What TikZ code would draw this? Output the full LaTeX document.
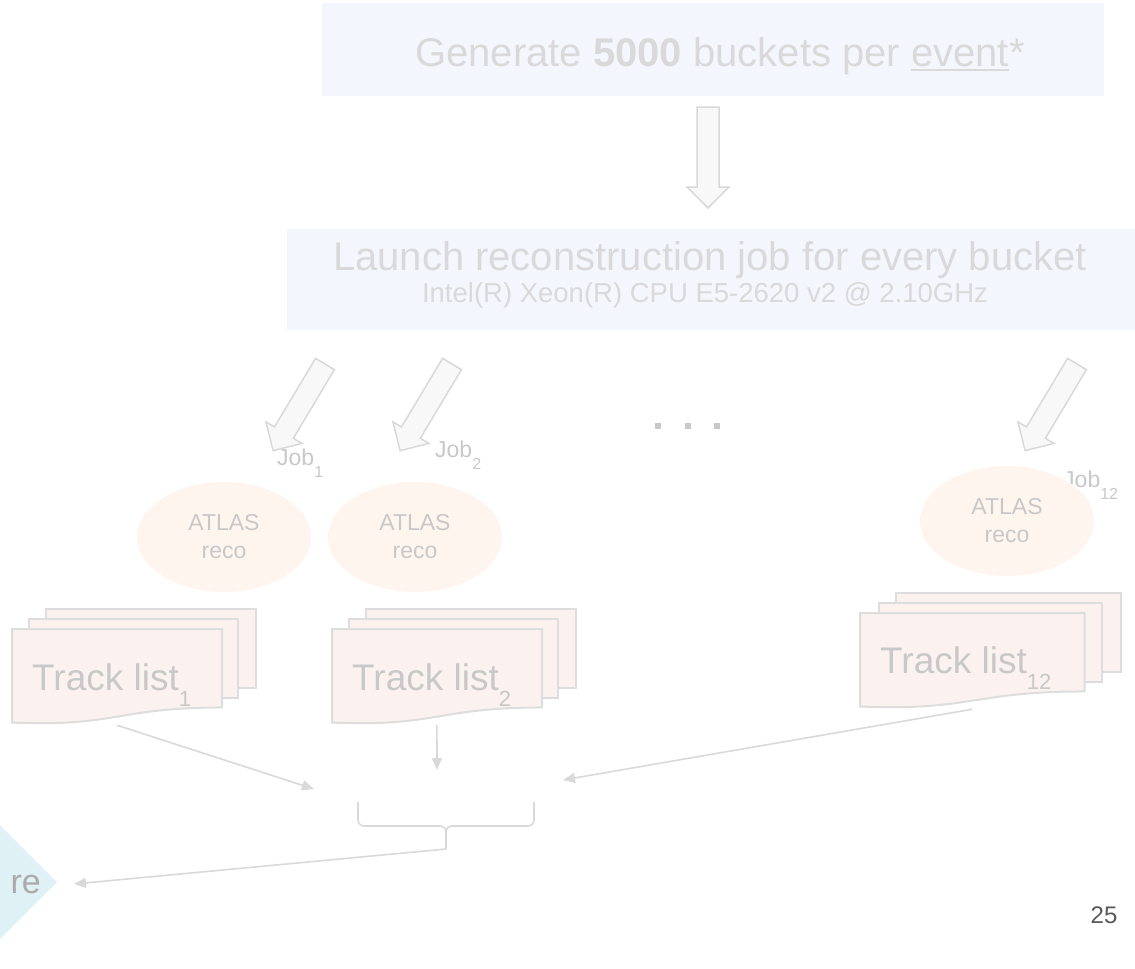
\documentclass[tikz,border=0pt]{standalone}
\usepackage{fontspec}
\setmainfont{Liberation Sans}
\usetikzlibrary{arrows.meta,shapes.geometric}

\definecolor{txtlight}{HTML}{D9D9D9}
\definecolor{txtmid}{HTML}{C8C8C8}
\definecolor{boxblue}{HTML}{F3F6FD}
\definecolor{recofill}{HTML}{FDF5EE}
\definecolor{docfill}{HTML}{FBF2F0}
\definecolor{docline}{HTML}{DDDDDD}
\definecolor{arrowline}{HTML}{D9D9D9}
\definecolor{arrowfill}{HTML}{F8F8F8}
\definecolor{tealfill}{HTML}{DFF1F4}
\definecolor{pagenum}{HTML}{595959}

\newlength\ulw
\newcommand\linedword[1]{\settowidth\ulw{#1}\rlap{\rule[-5pt]{\ulw}{2.5pt}}#1}
\newcommand\lowsub[3]{\raisebox{#2}{\fontsize{#1}{#1}\selectfont #3}}

% hollow block arrow: tail centre (x,y), direction angle
\newcommand\blockarrow[3]{%
  \begin{scope}[shift={(#1,#2)},rotate=#3]
    \filldraw[blockarrow] (0,-11) -- (80,-11) -- (80,-21) -- (101,0)
      -- (80,21) -- (80,11) -- (0,11) -- cycle;
  \end{scope}}

% stack of three pages: x0, y0, width, height, name of bottom point
\newcommand\multidoc[5]{%
  \begin{scope}[shift={(#1,#2)},xscale=#3,yscale=#4]
    \filldraw[docpage] (0.1376,0) rectangle (1,0.6663);
    \filldraw[docpage] (0.0709,0.0840) rectangle (0.9259,0.7524);
    \filldraw[docpage] (0,0.1701) -- (0.8609,0.1701) -- (0.8609,0.8344)
      .. controls (0.4305,0.8344) and (0.4305,1.0) .. (0,0.9621) -- cycle;
    \coordinate (#5) at (0.43,0.985);
  \end{scope}}

\tikzset{
  blockarrow/.style={fill=arrowfill, draw=arrowline, line width=1.5pt, line join=miter},
  docpage/.style={fill=docfill, draw=docline, line width=2pt},
  link/.style={draw=arrowline, line width=1.6pt, -{Triangle[length=12pt,width=10pt]}},
  bracestyle/.style={draw=arrowline, line width=1.6pt, rounded corners=6pt},
  reco/.style={ellipse, fill=recofill, minimum width=174pt, minimum height=110pt,
    inner sep=0pt, align=center, text=txtmid, font=\fontsize{23}{28}\selectfont},
  joblabel/.style={anchor=base west, inner sep=0pt, text=txtmid, font=\fontsize{23}{28}\selectfont},
  tracktext/.style={anchor=base west, inner sep=0pt, text=txtmid, font=\fontsize{37}{44}\selectfont},
}

\begin{document}
\begin{tikzpicture}[x=1pt,y=-1pt]
\useasboundingbox (0,0) rectangle (1135,969);

% top banner
\fill[boxblue] (322,3) rectangle (1104,96);
\node[anchor=base, inner sep=0pt, text=txtlight, font=\fontsize{40}{48}\selectfont]
  (gen) at (720,66) {Generate \textbf{5000} buckets per \linedword{event}*};

\blockarrow{708}{107}{270}

% launch banner
\fill[boxblue] (287,229) rectangle (1135,330);
\node[anchor=base, inner sep=0pt, text=txtlight, font=\fontsize{40}{48}\selectfont]
  (launch) at (710,270) {Launch reconstruction job for every bucket};
\node[anchor=base, inner sep=0pt, text=txtlight, font=\fontsize{27.5}{32}\selectfont]
  (cpu) at (705,302) {Intel(R) Xeon(R) CPU E5-2620 v2 @ 2.10GHz};

% job arrows
\blockarrow{325}{364}{239.1}
\blockarrow{452}{364}{239.1}
\blockarrow{1077}{364}{239.1}

\node[joblabel] (job1) at (277,465) {Job\lowsub{16}{-12pt}{1}};
\node[joblabel] (job2) at (435,457) {Job\lowsub{16}{-12pt}{2}};
\node[joblabel] (job12) at (1063,487) {Job\lowsub{16}{-12pt}{12}};

% ellipsis between jobs
\foreach \dx in {658,688,717}
  \fill[txtmid] (\dx-3,423) rectangle (\dx+3,429);

% reconstruction steps
\node[reco] (reco1) at (224,537) {ATLAS\\reco};
\node[reco] (reco2) at (415,537) {ATLAS\\reco};
\node[reco] (reco12) at (1007,521) {ATLAS\\reco};

% track lists
\multidoc{12}{609}{244}{118}{doc1}
\multidoc{332}{609}{244}{118}{doc2}
\multidoc{860}{593}{261}{118}{doc12}

\node[tracktext] (tl1) at (32,690) {Track list\lowsub{22}{-16pt}{1}};
\node[tracktext] (tl2) at (352,690) {Track list\lowsub{22}{-16pt}{2}};
\node[tracktext] (tl12) at (880,673) {Track list\lowsub{22}{-16pt}{12}};

% merging
\coordinate (in1) at (314,789);
\coordinate (in2) at (437,770);
\coordinate (in12) at (563,780);
\draw[link] (doc1) -- (in1);
\draw[link] (doc2) -- (in2);
\draw[link] (doc12) -- (in12);

\coordinate (brtip) at (446,849);
\draw[bracestyle] (358,802) -- (358,826) -- (446,826) -- (brtip);
\draw[bracestyle] (534,802) -- (534,826) -- (446,826) -- (brtip);

% output stage at the left edge
\fill[tealfill] (-60,825) -- (0,825) -- (57,882) -- (0,939) -- (-60,939) -- cycle;
\node[anchor=base east, inner sep=0pt, text=txtmid!85!black, font=\fontsize{34}{40}\selectfont]
  (store) at (41,893) {re};
\coordinate (storein) at (74,884);
\draw[link] (brtip) -- (storein);

% page number
\node[anchor=base, inner sep=0pt, text=pagenum, font=\fontsize{24}{28}\selectfont]
  (page) at (1104,923) {25};
\end{tikzpicture}
\end{document}
